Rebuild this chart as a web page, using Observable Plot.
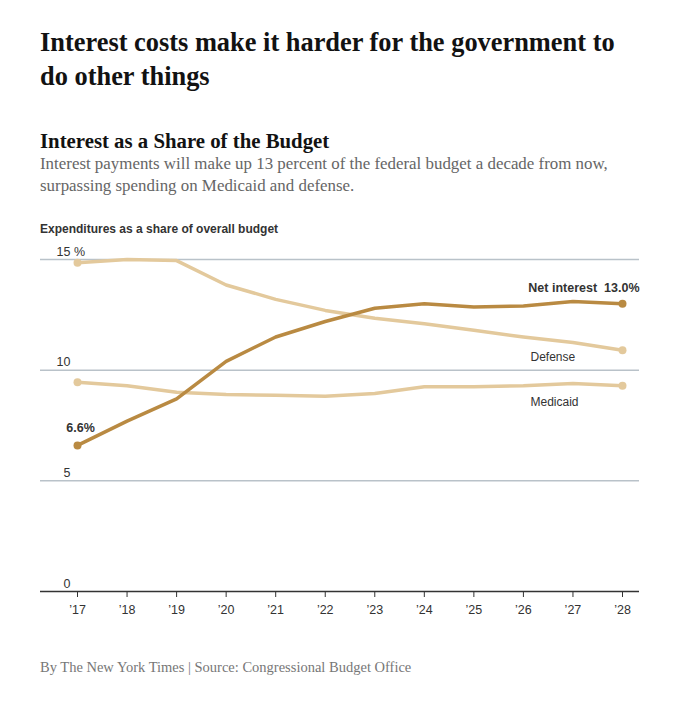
<!DOCTYPE html>
<html>
<head>
<meta charset="utf-8">
<script src="https://cdn.jsdelivr.net/npm/d3@7"></script>
<script src="https://cdn.jsdelivr.net/npm/@observablehq/plot@0.6"></script>
<style>
  html, body { margin: 0; padding: 0; background: #fff; }
  body { width: 688px; height: 709px; position: relative; overflow: hidden; }
  .blk { position: absolute; left: 40px; white-space: nowrap; }
  #title { top: 25px; font-family: "Liberation Serif", serif; font-weight: bold; font-size: 26.4px; line-height: 34px; color: #121212; }
  #subtitle { top: 129px; font-family: "Liberation Serif", serif; font-weight: bold; font-size: 20.8px; line-height: 24px; color: #121212; }
  #desc { top: 153px; font-family: "Liberation Serif", serif; font-size: 16.9px; line-height: 22px; color: #666; }
  #ylabel { top: 222px; font-family: "Liberation Sans", Arial, sans-serif; font-weight: bold; font-size: 12px; line-height: 14px; color: #333; }
  #chart { position: absolute; left: 0; top: 240px; }
  #caption { top: 659px; font-family: "Liberation Serif", serif; font-size: 14.5px; line-height: 16px; color: #777; }
</style>
</head>
<body>
<div class="blk" id="title">Interest costs make it harder for the government to<br>do other things</div>
<div class="blk" id="subtitle">Interest as a Share of the Budget</div>
<div class="blk" id="desc">Interest payments will make up 13 percent of the federal budget a decade from now,<br>surpassing spending on Medicaid and defense.</div>
<div class="blk" id="ylabel">Expenditures as a share of overall budget</div>
<div id="chart"></div>
<div class="blk" id="caption">By The New York Times | Source: Congressional Budget Office</div>
<script>
const years = [2017, 2018, 2019, 2020, 2021, 2022, 2023, 2024, 2025, 2026, 2027, 2028];
const xTickLabels = ["’17", "’18", "’19", "’20", "’21", "’22", "’23", "’24", "’25", "’26", "’27", "’28"];
const netInterest = [6.6, 7.7, 8.7, 10.4, 11.5, 12.2, 12.8, 13.0, 12.85, 12.9, 13.1, 13.0];
const defense = [14.85, 15.0, 14.95, 13.85, 13.2, 12.7, 12.35, 12.1, 11.8, 11.5, 11.25, 10.9];
const medicaid = [9.45, 9.3, 9.0, 8.9, 8.87, 8.82, 8.95, 9.25, 9.25, 9.3, 9.4, 9.3];
const yTicks = [0, 5, 10, 15];
const seriesNames = ["Defense", "Medicaid", "Net interest"];

const seriesValues = {"Defense": defense, "Medicaid": medicaid, "Net interest": netInterest};
const colors = {"Defense": "#e3c99c", "Medicaid": "#e3c99c", "Net interest": "#b98a42"};
const rows = seriesNames.flatMap(name => years.map((year, i) => ({name, year, value: seriesValues[name][i]})));
const ends = rows.filter(d => d.year === years[0] || d.year === years[years.length - 1]);
const last = name => rows.filter(d => d.name === name && d.year === years[years.length - 1]);
const first = name => rows.filter(d => d.name === name && d.year === years[0]);

const sans = "Liberation Sans, Arial, sans-serif";

const chart = Plot.plot({
  width: 688,
  height: 390,
  marginLeft: 40,
  marginRight: 49,
  marginTop: 19,
  marginBottom: 39,
  style: {fontFamily: sans, fontSize: "12px", color: "#333", background: "transparent"},
  x: {type: "linear", domain: [2016.253, 2028.343]},
  y: {domain: [0, 15], axis: null},
  marks: [
    Plot.ruleY(yTicks.filter(d => d > 0), {stroke: "#b9c2c9", strokeWidth: 1.5}),
    Plot.ruleY([0], {stroke: "#333", strokeWidth: 1.5}),
    Plot.axisX({ticks: years, tickFormat: d => xTickLabels[years.indexOf(d)], tickSize: 6, tickPadding: 8, stroke: "#333", fill: "#333", fontSize: 12.5, label: null}),
    Plot.text(yTicks, {y: d => d, text: d => String(d), frameAnchor: "left", dx: 30, dy: -8, textAnchor: "end", fill: "#333", fontSize: 12.5}),
    Plot.text(yTicks.filter(d => d === 15), {y: d => d, text: d => " %", frameAnchor: "left", dx: 30, dy: -8, textAnchor: "start", fill: "#333", fontSize: 12.5}),
    Plot.line(rows.filter(d => d.name !== "Net interest"), {x: "year", y: "value", z: "name", stroke: d => colors[d.name], strokeWidth: 3.5, strokeLinejoin: "round", strokeLinecap: "round"}),
    Plot.dot(ends.filter(d => d.name !== "Net interest"), {x: "year", y: "value", r: 4, fill: d => colors[d.name]}),
    Plot.line(rows.filter(d => d.name === "Net interest"), {x: "year", y: "value", stroke: colors["Net interest"], strokeWidth: 3.5, strokeLinejoin: "round", strokeLinecap: "round"}),
    Plot.dot(ends.filter(d => d.name === "Net interest"), {x: "year", y: "value", r: 4, fill: colors["Net interest"]}),
    Plot.text(last("Net interest"), {x: "year", y: "value", text: d => `Net interest  ${d.value.toFixed(1)}%`, textAnchor: "end", dx: 17, dy: -16, fontWeight: "bold", fontSize: 12.5, fill: "#333"}),
    Plot.text(first("Net interest"), {x: "year", y: "value", text: d => `${d.value.toFixed(1)}%`, textAnchor: "middle", dx: 3, dy: -17, fontWeight: "bold", fontSize: 12.5, fill: "#333"}),
    Plot.text(last("Defense"), {x: "year", y: "value", text: "name", textAnchor: "start", dx: -92, dy: 7, fontSize: 12, fill: "#333"}),
    Plot.text(last("Medicaid"), {x: "year", y: "value", text: "name", textAnchor: "start", dx: -92, dy: 16, fontSize: 12, fill: "#333"})
  ]
});
document.getElementById("chart").appendChild(chart);
</script>
</body>
</html>
